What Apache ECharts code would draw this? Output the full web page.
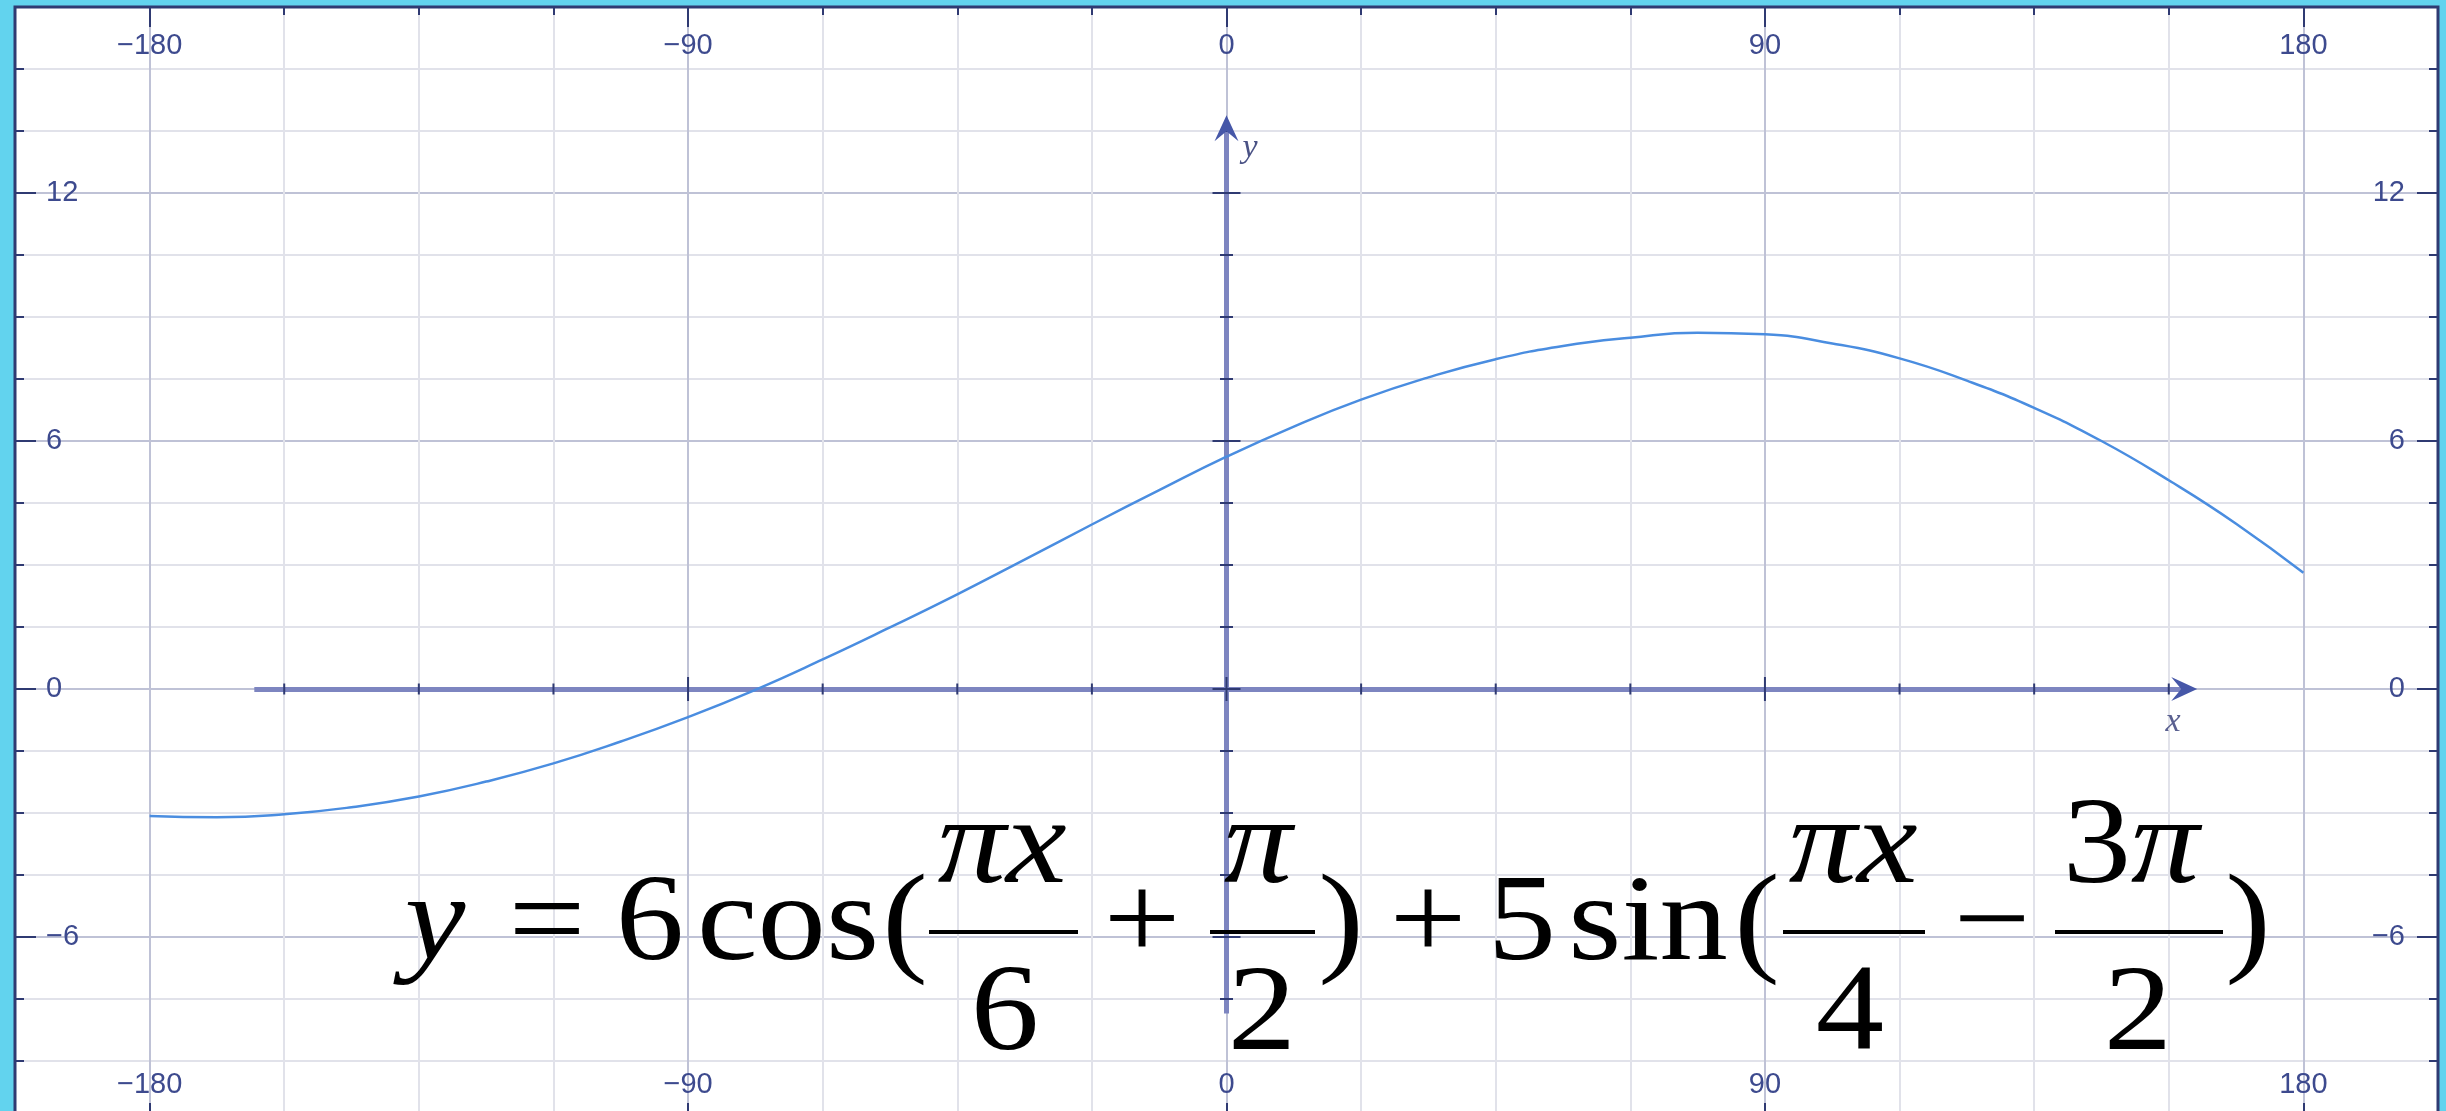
<!DOCTYPE html>
<html>
<head>
<meta charset="utf-8">
<script src="https://cdn.jsdelivr.net/npm/echarts@6/dist/echarts.min.js"></script>
<style>
  html, body { margin: 0; padding: 0; background: #62d3ee; overflow: hidden; }
  #chart { width: 2446px; height: 1123px; }
</style>
</head>
<body>
<div id="chart"></div>
<script>
// ---- data ----
const xLabelTicks = [-180, -90, 0, 90, 180];
const yLabelTicks = [-6, 0, 6, 12];

const curveX = [-180, -168.75, -157.5, -146.25, -135, -123.75, -112.5, -101.25, -90, -78.75, -67.5, -56.25,
                -45, -33.75, -22.5, -11.25, 0, 11.25, 22.5, 33.75, 45, 56.25, 67.5, 78.75,
                90, 101.25, 112.5, 123.75, 135, 146.25, 157.5, 168.75, 180];
const curveY = [-3.07, -3.10, -3.03, -2.86, -2.6, -2.24, -1.8, -1.27, -0.68, -0.02, 0.715, 1.49,
                2.29, 3.13, 3.98, 4.81, 5.62, 6.35, 7.0, 7.54, 7.98, 8.3, 8.5, 8.62,
                8.58, 8.36, 8.0, 7.46, 6.8, 6.0, 5.05, 4.0, 2.81];

// ticks drawn on the inner coordinate axes
const innerXMinor = [-157.5, -135, -112.5, -67.5, -45, -22.5, 22.5, 45, 67.5, 112.5, 135, 157.5];
const innerXMajor = [-90, 0, 90];
const innerYMinor = [-7.5, -4.5, -3, -1.5, 1.5, 3, 4.5, 7.5, 9, 10.5, 13.5];
const innerYMajor = [-6, 0, 6, 12];

// extents of the inner axes (x axis: left end / arrow tip, y axis: bottom end / arrow tip)
const xAxisSpan = [-162.5, 162.25];
const yAxisSpan = [-7.85, 13.88];

// ---- styles ----
const NAVY = '#2f3a72';
const LABEL = '#3d4a8e';
const GRID_MINOR = '#e1e2ea';
const GRID_MAJOR = '#bfc2d6';
const AXIS_BLUE = '#7d85c0';
const ARROW_BLUE = '#4657a8';

const fmt = v => (v < 0 ? '\u2212' + (-v) : String(v));
const labelStyle = { fontFamily: 'Liberation Sans', fontSize: 29, color: LABEL };
const hiddenLine = { show: false, onZero: false };

function minorX(pos, withSplit) {
  return {
    type: 'value', gridIndex: 0, position: pos, min: -202.5, max: 202.5, interval: 22.5,
    axisLine: hiddenLine,
    axisTick: { show: true, inside: true, length: 8, lineStyle: { color: NAVY, width: 2 } },
    axisLabel: { show: false },
    splitLine: withSplit ? { show: true, showMinLine: false, showMaxLine: false,
      lineStyle: { color: [GRID_MAJOR, GRID_MINOR, GRID_MINOR, GRID_MINOR], width: 2 } } : { show: false }
  };
}
function majorX(pos) {
  return {
    type: 'value', gridIndex: 0, position: pos, min: -202.5, max: 202.5,
    axisLine: hiddenLine,
    axisTick: { show: true, inside: true, length: 20, customValues: xLabelTicks, lineStyle: { color: NAVY, width: 2 } },
    axisLabel: Object.assign({ show: true, inside: true, margin: 24, customValues: xLabelTicks, formatter: fmt }, labelStyle),
    splitLine: { show: false }
  };
}
function minorY(pos, withSplit) {
  return {
    type: 'value', gridIndex: 0, position: pos, min: -10.5, max: 16.5, interval: 1.5,
    axisLine: hiddenLine,
    axisTick: { show: true, inside: true, length: 9, lineStyle: { color: NAVY, width: 2 } },
    axisLabel: { show: false },
    splitLine: withSplit ? { show: true, showMinLine: false, showMaxLine: false,
      lineStyle: { color: [GRID_MINOR, GRID_MINOR, GRID_MAJOR, GRID_MINOR], width: 2 } } : { show: false }
  };
}
function majorY(pos, margin) {
  return {
    type: 'value', gridIndex: 0, position: pos, min: -10.5, max: 16.5,
    axisLine: hiddenLine,
    axisTick: { show: true, inside: true, length: 21, customValues: yLabelTicks, lineStyle: { color: NAVY, width: 2 } },
    axisLabel: Object.assign({ show: true, inside: true, margin: margin, customValues: yLabelTicks, formatter: fmt }, labelStyle),
    splitLine: { show: false }
  };
}

// short tick marks centred on the inner axes
function tickSeries(values, onXAxis, len) {
  return {
    type: 'custom', xAxisIndex: 0, yAxisIndex: 0, silent: true, z: 6,
    data: values.map(v => (onXAxis ? [v, 0] : [0, v])),
    renderItem: (params, api) => {
      const p = api.coord([api.value(0), api.value(1)]);
      const h = len / 2;
      return {
        type: 'line',
        shape: onXAxis ? { x1: p[0], y1: p[1] - h, x2: p[0], y2: p[1] + h }
                       : { x1: p[0] - h, y1: p[1], x2: p[0] + h, y2: p[1] },
        style: { stroke: NAVY, lineWidth: 2 }
      };
    }
  };
}

// arrow heads at the ends of the inner axes (third value: 0 = pointing right, 1 = pointing up)
const arrowSeries = {
  type: 'custom', xAxisIndex: 0, yAxisIndex: 0, silent: true, z: 7,
  data: [[xAxisSpan[1], 0, 0], [0, yAxisSpan[1], 1]],
  renderItem: (params, api) => {
    const p = api.coord([api.value(0), api.value(1)]);
    const L = 26, W = 12, N = 16;
    const pts = api.value(2) === 0
      ? [[p[0], p[1]], [p[0] - L, p[1] - W], [p[0] - N, p[1]], [p[0] - L, p[1] + W]]
      : [[p[0], p[1]], [p[0] - W, p[1] + L], [p[0], p[1] + N], [p[0] + W, p[1] + L]];
    return { type: 'polygon', shape: { points: pts }, style: { fill: ARROW_BLUE } };
  }
};

// ---- formula, laid out piece by piece ----
const SERIF = '"Liberation Serif", "Times New Roman", serif';
const FS = 122;
const MAIN = 927, NUM = 850, DEN = 1017;
const pieces = [
  ['y', 435, MAIN, true], ['=', 547, MAIN], ['6', 650, MAIN], ['cos', 788, MAIN], ['(', 905, MAIN],
  ['\u03c0x', 1002, NUM, true], ['6', 1005, DEN],
  ['+', 1142, MAIN],
  ['\u03c0', 1258, NUM, true], ['2', 1262, DEN],
  [')', 1341, MAIN], ['+', 1428, MAIN], ['5', 1522, MAIN], ['sin', 1648, MAIN], ['(', 1757, MAIN],
  ['\u03c0x', 1853, NUM, true], ['4', 1850, DEN],
  ['\u2212', 1992, MAIN],
  ['3', 2097, NUM], ['\u03c0', 2165, NUM, true], ['2', 2138, DEN],
  [')', 2248, MAIN]
];
const bars = [[929, 1078], [1210, 1315], [1783, 1925], [2055, 2223]];

const graphics = [];
pieces.forEach(([t, cx, cy, it]) => {
  graphics.push({
    type: 'text', x: cx, y: cy, scaleX: 1.12, z: 100,
    style: { text: t, font: (it ? 'italic ' : '') + FS + 'px ' + SERIF, fill: '#000',
      align: 'center', verticalAlign: 'middle', textAlign: 'center', textVerticalAlign: 'middle' }
  });
});
bars.forEach(([a, b]) => {
  graphics.push({ type: 'rect', z: 100, shape: { x: a, y: 930, width: b - a, height: 4 }, style: { fill: '#000' } });
});
// axis names
graphics.push({ type: 'text', x: 1250, y: 148, z: 100,
  style: { text: 'y', font: 'italic 34px ' + SERIF, fill: '#4a5285', align: 'center', verticalAlign: 'middle', textAlign: 'center', textVerticalAlign: 'middle' } });
graphics.push({ type: 'text', x: 2173, y: 722, z: 100,
  style: { text: 'x', font: 'italic 34px ' + SERIF, fill: '#5a6090', align: 'center', verticalAlign: 'middle', textAlign: 'center', textVerticalAlign: 'middle' } });

const chart = echarts.init(document.getElementById('chart'), null, { renderer: 'canvas' });
chart.setOption({
  animation: false,
  backgroundColor: '#62d3ee',
  grid: [{ left: 15, right: 8, top: 7, bottom: 0, show: true, backgroundColor: '#ffffff', borderColor: NAVY, borderWidth: 3 }],
  xAxis: [minorX('bottom', true), minorX('top', false), majorX('bottom'), majorX('top')],
  yAxis: [minorY('left', true), minorY('right', false), majorY('left', 31), majorY('right', 33)],
  graphic: graphics,
  series: [
    {
      type: 'line', xAxisIndex: 0, yAxisIndex: 0, z: 3, silent: true, showSymbol: false, data: [],
      markLine: {
        silent: true, symbol: 'none', label: { show: false },
        lineStyle: { color: AXIS_BLUE, width: 5, type: 'solid' },
        data: [
          [{ coord: [xAxisSpan[0], 0] }, { coord: [xAxisSpan[1] - 2, 0] }],
          [{ coord: [0, yAxisSpan[0]] }, { coord: [0, yAxisSpan[1] - 0.3] }]
        ]
      }
    },
    tickSeries(innerXMinor, true, 11),
    tickSeries(innerXMajor, true, 24),
    tickSeries(innerYMinor, false, 13),
    tickSeries(innerYMajor, false, 28),
    arrowSeries,
    {
      type: 'line', xAxisIndex: 0, yAxisIndex: 0, z: 5, smooth: true, showSymbol: false, silent: true,
      lineStyle: { color: '#4a8de0', width: 2.5 },
      data: curveX.map((x, i) => [x, curveY[i]])
    }
  ]
});
</script>
</body>
</html>
